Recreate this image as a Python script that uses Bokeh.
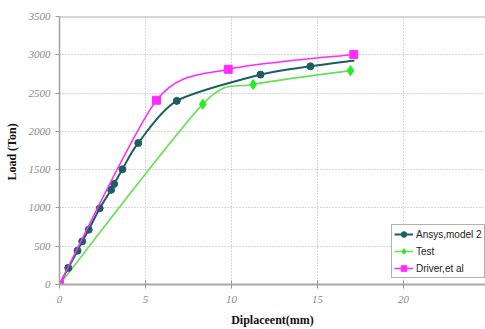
from bokeh.plotting import figure
from bokeh.models import Range1d, Span, Legend, LegendItem, FixedTicker
from bokeh.embed import file_html
from bokeh.resources import INLINE

# ---- data ----
ansys_x = [0, 0.51, 1.05, 1.32, 1.70, 2.34, 3.00, 3.18, 3.66, 4.58, 6.82, 11.69, 14.59, 17.15]
ansys_y = [0, 217, 442, 563, 716, 995, 1236, 1314, 1505, 1848, 2398, 2741, 2849, 2925]
ansys_marked = 13  # last point has no marker

test_x = [0, 8.33, 11.26, 16.92]
test_y = [0, 2355, 2611, 2793]

driver_x = [0, 5.64, 9.81, 17.11]
driver_y = [0, 2407, 2810, 3005]

x_ticks = [0, 5, 10, 15, 20]
y_ticks = [0, 500, 1000, 1500, 2000, 2500, 3000, 3500]

labels = ["Ansys,model 2", "Test", "Driver,et al"]


def smooth(xs, ys, k=0.13):
    n = len(xs)
    out = dict(x0=[], y0=[], x1=[], y1=[], cx0=[], cy0=[], cx1=[], cy1=[])
    for i in range(n - 1):
        prv = i - 1 if i > 0 else 0
        nxt = i + 2 if i + 2 < n else n - 1
        out["x0"].append(xs[i]); out["y0"].append(ys[i])
        out["x1"].append(xs[i + 1]); out["y1"].append(ys[i + 1])
        out["cx0"].append(xs[i] + k * (xs[i + 1] - xs[prv]))
        out["cy0"].append(ys[i] + k * (ys[i + 1] - ys[prv]))
        out["cx1"].append(xs[i + 1] - k * (xs[nxt] - xs[i]))
        out["cy1"].append(ys[i + 1] - k * (ys[nxt] - ys[i]))
    return out


p = figure(width=485, height=329,
           x_range=Range1d(0, 24.77), y_range=Range1d(0, 3500),
           output_backend="svg", toolbar_location=None,
           min_border_left=59, min_border_right=0,
           min_border_top=16, min_border_bottom=44)
p.outline_line_color = None
p.background_fill_color = "white"

p.xaxis.ticker = FixedTicker(ticks=x_ticks)
p.yaxis.ticker = FixedTicker(ticks=y_ticks)
p.xaxis.minor_tick_line_color = None
p.yaxis.minor_tick_line_color = None

for ax in (p.xaxis, p.yaxis):
    ax.major_label_text_font = "Liberation Serif"
    ax.major_label_text_font_style = "italic"
    ax.major_label_text_font_size = "11px"
    ax.major_label_text_color = "#8a8a8a"
    ax.axis_label_text_font = "Liberation Serif"
    ax.axis_label_text_font_style = "bold"
    ax.axis_label_text_font_size = "12px"
    ax.axis_label_text_color = "#111111"
    ax.major_tick_line_color = "#999999"

p.xaxis.axis_label = "Diplaceent(mm)"
p.yaxis.axis_label = "Load  (Ton)"
p.xaxis.axis_line_color = "#a8a8a8"
p.xaxis.axis_line_width = 2
p.yaxis.axis_line_color = "#a0a0a0"
p.yaxis.axis_line_width = 1.5
p.xaxis.major_tick_in = 4
p.xaxis.major_tick_out = 4
p.yaxis.major_tick_in = 0
p.yaxis.major_tick_out = 4
p.xaxis.major_label_standoff = 7
p.yaxis.major_label_standoff = 5
p.xaxis.axis_label_standoff = 7
p.yaxis.axis_label_standoff = 7

for g in (p.xgrid, p.ygrid):
    g.grid_line_color = "#b0b0b0"
    g.grid_line_dash = "1 2"
    g.grid_line_width = 1

p.add_layout(Span(location=3500, dimension="width", line_color="#b0b0b0", line_width=2))

teal = "#1d5f60"
green_line = "#66e055"
green_mk = "#22ee22"
magenta = "#ff2aff"

sa = smooth(ansys_x, ansys_y)
st = smooth(test_x, test_y)
sd = smooth(driver_x, driver_y)

rt_line = p.bezier(line_color=green_line, line_width=1.6, **st)
rt_mk = p.scatter(test_x[1:], test_y[1:], marker="diamond", size=10,
                  fill_color=green_mk, line_color=green_mk)
ra_line = p.bezier(line_color=teal, line_width=2, **sa)
ra_mk = p.scatter(ansys_x[:ansys_marked], ansys_y[:ansys_marked], marker="circle", size=7,
                  fill_color=teal, line_color=teal)
rd_line = p.bezier(line_color=magenta, line_width=1.5, **sd)
rd_mk = p.scatter(driver_x, driver_y, marker="square", size=8,
                  fill_color=magenta, line_color=magenta)

legend = Legend(items=[
    LegendItem(label=labels[0], renderers=[ra_line, ra_mk]),
    LegendItem(label=labels[1], renderers=[rt_line, rt_mk]),
    LegendItem(label=labels[2], renderers=[rd_line, rd_mk]),
], location=(332, 6))
legend.label_text_font = "Liberation Sans"
legend.label_text_font_size = "10px"
legend.label_text_color = "#222222"
legend.glyph_width = 19
legend.glyph_height = 14
legend.label_height = 14
legend.label_standoff = 3
legend.spacing = 3
legend.padding = 2
legend.margin = 0
legend.border_line_color = "#666666"
legend.border_line_width = 1
legend.background_fill_color = "white"
legend.background_fill_alpha = 1
p.add_layout(legend)

open("out.html", "w").write(file_html(p, INLINE))
